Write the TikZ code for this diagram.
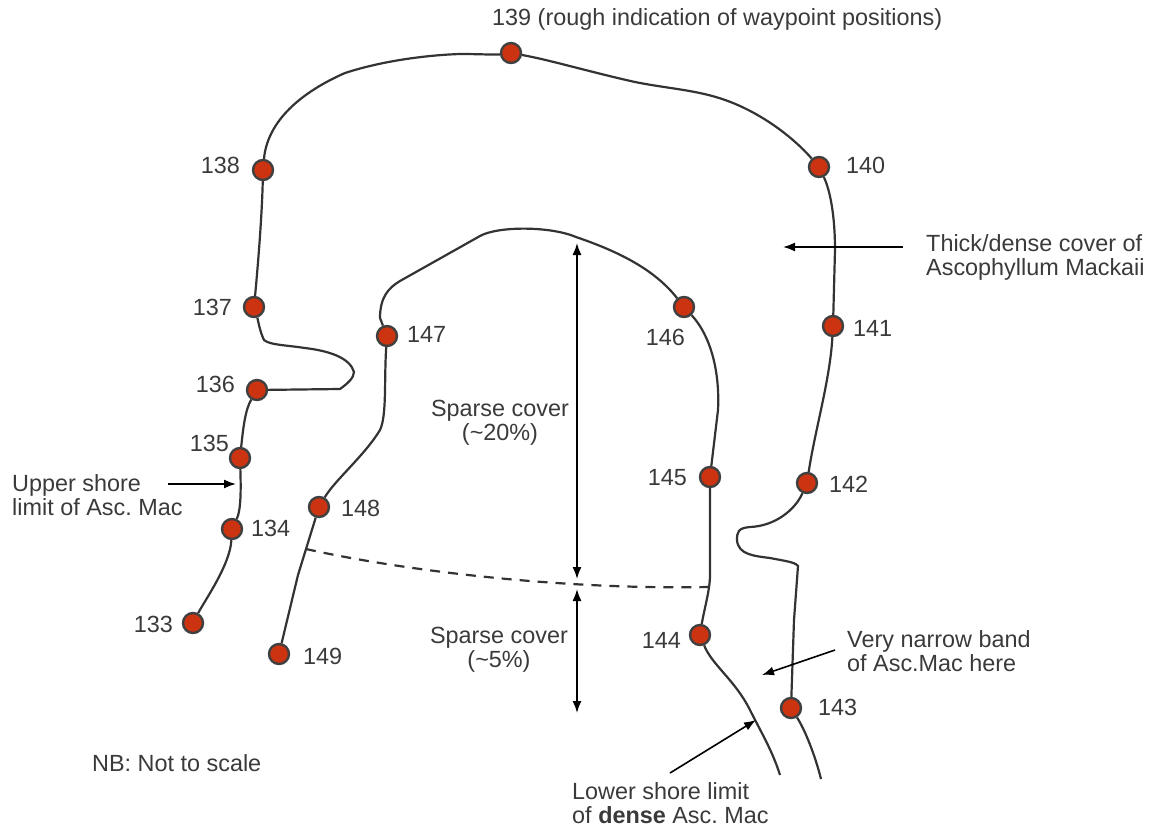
\documentclass[tikz,border=0pt]{standalone}
\usepackage{fontspec}
\setmainfont{Liberation Sans}
\usepackage{xcolor}
\usetikzlibrary{arrows.meta,positioning}
\definecolor{wpred}{HTML}{CC3311}
\definecolor{inkgrey}{HTML}{3A3A3A}
\begin{document}
\begin{tikzpicture}[
  x=1pt, y=-1pt,
  font=\fontsize{23.4}{24}\selectfont\frenchspacing,
  waypoint/.style={draw=black!75, circle, fill=wpred, line width=2.4pt, minimum size=20pt, inner sep=0pt},
  lbl/.style={text=inkgrey, inner sep=0pt},
  note/.style={text=inkgrey, align=left, inner sep=0pt},
  shore/.style={draw=black!80, line width=2.2pt},
  arrow/.style={-{Latex[length=12pt,width=9pt]}, black, line width=1.6pt},
  both/.style={{Latex[length=12pt,width=9pt]}-{Latex[length=12pt,width=9pt]}, black, line width=1.6pt}
]
  \useasboundingbox (0,0) rectangle (1152,828);

  % Free ends
  \coordinate (endk) at (821,779);
  \coordinate (endl) at (780,775);
  \coordinate (dasha) at (306,549);
  \coordinate (dashb) at (708,587);
  \coordinate (thickfrom) at (903,247);
  \coordinate (thickto) at (783,247);
  \coordinate (uppertop) at (577,243);
  \coordinate (upperbot) at (577,579);
  \coordinate (lowertop) at (577,589);
  \coordinate (lowerbot) at (577,713);
  \coordinate (shorefrom) at (168,484);
  \coordinate (shoreto) at (236,484);
  \coordinate (narrowfrom) at (835,650);
  \coordinate (narrowto) at (762,675);
  \coordinate (limitfrom) at (670,773);
  \coordinate (limitto) at (756,720);

  % Waypoints
  \node[waypoint] (wpa) at (193,623) {};
  \node[waypoint] (wpb) at (232,529) {};
  \node[waypoint] (wpc) at (240,458) {};
  \node[waypoint] (wpd) at (257,390) {};
  \node[waypoint] (wpe) at (254,307) {};
  \node[waypoint] (wpf) at (263,170) {};
  \node[waypoint] (wpg) at (511,53) {};
  \node[waypoint] (wph) at (819,167) {};
  \node[waypoint] (wpi) at (833,326) {};
  \node[waypoint] (wpj) at (807,483) {};
  \node[waypoint] (wpk) at (791,708) {};
  \node[waypoint] (wpl) at (700,635) {};
  \node[waypoint] (wpm) at (710,477) {};
  \node[waypoint] (wpn) at (684,307) {};
  \node[waypoint] (wpo) at (387,336) {};
  \node[waypoint] (wpp) at (319,507) {};
  \node[waypoint] (wpq) at (279,654) {};

  % Waypoint numbers
  \node[lbl, anchor=east] (txa) at (173,624) {133};
  \node[lbl, anchor=west] (txb) at (251,528) {134};
  \node[lbl, anchor=east] (txc) at (229,443) {135};
  \node[lbl, anchor=east] (txd) at (235,384) {136};
  \node[lbl, anchor=east] (txe) at (232,307) {137};
  \node[lbl, anchor=east] (txf) at (240,165) {138};
  \node[lbl, anchor=west] (txg) at (492,19) {139 (rough indication of waypoint positions)};
  \node[lbl, anchor=west] (txh) at (846,165) {140};
  \node[lbl, anchor=west] (txi) at (853,328) {141};
  \node[lbl, anchor=west] (txj) at (829,484) {142};
  \node[lbl, anchor=west] (txk) at (818,707) {143};
  \node[lbl, anchor=east] (txl) at (681,640) {144};
  \node[lbl, anchor=east] (txm) at (687,478) {145};
  \node[lbl, anchor=east] (txn) at (685,337) {146};
  \node[lbl, anchor=west] (txo) at (407,334) {147};
  \node[lbl, anchor=west] (txp) at (341,508) {148};
  \node[lbl, anchor=west] (txq) at (303,656) {149};

  % Notes
  \node[note, anchor=west] (thick) at (926,257) {Thick/dense cover of\\Ascophyllum Mackaii};
  \node[note, align=center] (sparsea) at (500,423) {Sparse cover\\(\textasciitilde 20\%)};
  \node[note, align=center] (sparseb) at (499,650) {Sparse cover\\(\textasciitilde 5\%)};
  \node[note, anchor=west] (upper) at (12,495) {Upper shore\\limit of Asc. Mac};
  \node[note, anchor=west] (narrow) at (847,651) {Very narrow band\\of Asc.Mac here};
  \node[note, anchor=west] (limit) at (572,803) {Lower shore limit\\of \textbf{dense} Asc. Mac};
  \node[note, anchor=west] (nb) at (92,763) {NB: Not to scale};

  % Outer line
  \draw[shore] (wpa) .. controls (205,600) and (230,565) .. (wpb);
  \draw[shore] (wpb) .. controls (241,510) and (241,490) .. (wpc);
  \draw[shore] (wpc) .. controls (243,430) and (245,410) .. (wpd);
  \draw[shore] (wpd) -- (340,389) .. controls (347,384) and (354,378) .. (354,372)
    .. controls (350,358) and (330,351) .. (305,348) .. controls (285,345) and (270,345) .. (264,340)
    .. controls (260,332) and (258,320) .. (wpe);
  \draw[shore] (wpe) .. controls (258,265) and (262,215) .. (wpf);
  \draw[shore] (wpf) .. controls (267,125) and (295,95) .. (345,73)
    .. controls (385,60) and (430,55) .. (460,54)
    .. controls (480,54) and (495,55) .. (wpg);
  \draw[shore] (wpg) .. controls (550,60) and (590,72) .. (635,82)
    .. controls (675,90) and (705,90) .. (740,106)
    .. controls (775,122) and (800,145) .. (wph);
  \draw[shore] (wph) .. controls (830,190) and (835,215) .. (835,250) -- (wpi);
  \draw[shore] (wpi) .. controls (830,380) and (815,430) .. (wpj);
  \draw[shore] (wpj) .. controls (795,510) and (775,526) .. (750,527)
    .. controls (738,528) and (737,532) .. (737,540)
    .. controls (738,555) and (755,556) .. (770,558) .. controls (785,561) and (795,562) .. (798,566)
    -- (794,620) -- (wpk);
  \draw[shore] (wpk) .. controls (805,730) and (815,755) .. (endk);

  % Inner line
  \draw[shore] (wpq) -- (298,575) -- (wpp);
  \draw[shore] (wpp) .. controls (335,480) and (365,455) .. (380,430)
    .. controls (387,415) and (384,380) .. (wpo);
  \draw[shore] (wpo) -- (380,318) .. controls (380,298) and (388,288) .. (400,281)
    -- (480,236) .. controls (498,226) and (550,226) .. (576,237)
    .. controls (620,252) and (655,270) .. (wpn);
  \draw[shore] (wpn) .. controls (710,335) and (720,370) .. (718,410) -- (wpm);
  \draw[shore] (wpm) -- (710,575) .. controls (710,590) and (704,610) .. (wpl);
  \draw[shore] (wpl) .. controls (712,665) and (735,680) .. (750,710)
    .. controls (762,734) and (772,750) .. (endl);

  % Dashed limit
  \draw[shore, dash pattern=on 10pt off 8pt] (dasha) .. controls (400,570) and (560,590) .. (dashb);

  % Arrows
  \draw[arrow] (thickfrom) -- (thickto);
  \draw[both] (uppertop) -- (upperbot);
  \draw[both] (lowertop) -- (lowerbot);
  \draw[arrow] (shorefrom) -- (shoreto);
  \draw[arrow] (narrowfrom) -- (narrowto);
  \draw[arrow] (limitfrom) -- (limitto);
\end{tikzpicture}
\end{document}
